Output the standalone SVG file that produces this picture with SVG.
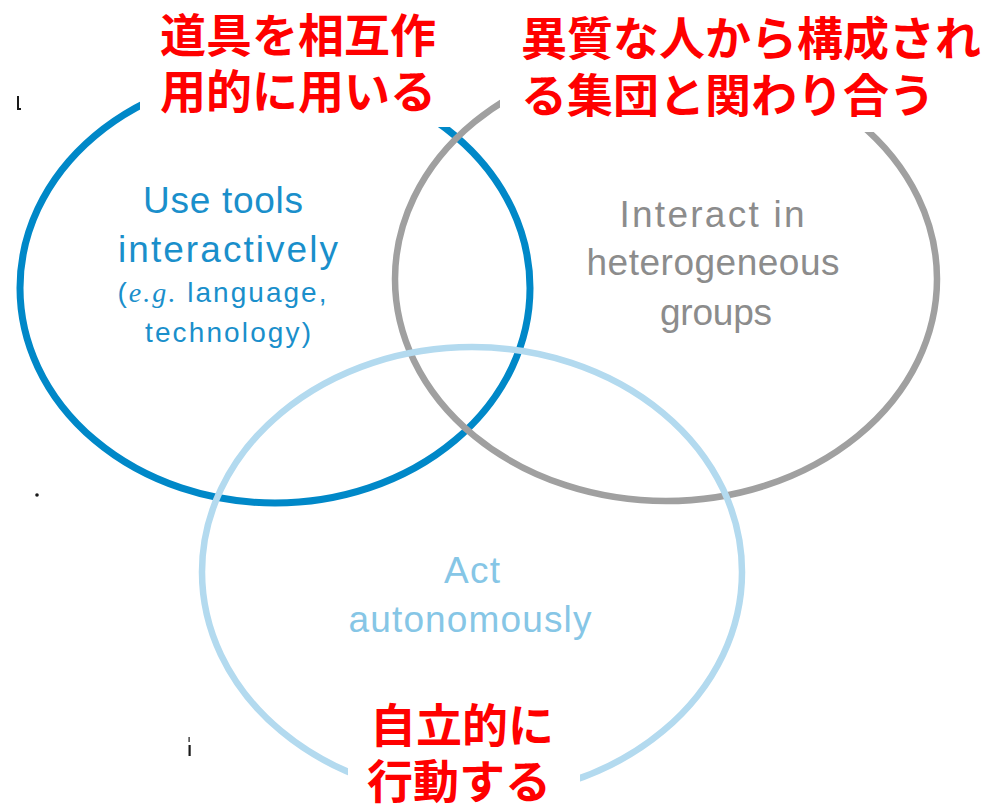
<svg xmlns="http://www.w3.org/2000/svg" width="983" height="805" viewBox="0 0 983 805">
  <style>
    .ring { fill: none; }
    .lbl { font-family: "Liberation Sans", "DejaVu Sans", sans-serif; font-size: 37px; text-anchor: middle; }
    .small { font-size: 28px; }
    .note { font-family: "Noto Sans CJK JP", "Noto Sans CJK SC", sans-serif; font-weight: 700; font-size: 46px; fill: #FF0000; }
    .pad { fill: #FFFFFF; }
    .mark { fill: #1A1A1A; }
  </style>

  <rect width="983" height="805" fill="#FFFFFF"/>

  <!-- stray print marks along the left margin -->
  <g id="margin-marks">
    <rect class="mark" x="17" y="96" width="2" height="14"/>
    <rect class="mark" x="17" y="108" width="4" height="2"/>
    <circle class="mark" cx="37" cy="495" r="1.8"/>
    <rect class="mark" x="188.5" y="737" width="1.2" height="5"/>
    <rect class="mark" x="188.5" y="745" width="2.2" height="11"/>
  </g>

  <!-- competency: tools -->
  <g id="node-tools">
    <ellipse class="ring" cx="275" cy="288" rx="255" ry="215" stroke="#0088C8" stroke-width="7"/>
    <g class="lbl" fill="#1A8FCB">
      <text x="223" y="213" textLength="160" lengthAdjust="spacing">Use tools</text>
      <text x="228" y="262" textLength="220" lengthAdjust="spacing">interactively</text>
      <text class="small" x="222" y="302" textLength="209" lengthAdjust="spacing">(<tspan font-family="Liberation Serif, serif" font-style="italic">e.g.</tspan> language,</text>
      <text class="small" x="228" y="342" textLength="166" lengthAdjust="spacing">technology)</text>
    </g>
  </g>

  <!-- competency: groups -->
  <g id="node-groups">
    <ellipse class="ring" cx="666" cy="279" rx="271" ry="222" stroke="#A0A0A0" stroke-width="6.5"/>
    <g class="lbl" fill="#8C8C8C">
      <text x="712" y="227" textLength="185" lengthAdjust="spacing">Interact in</text>
      <text x="713" y="275" textLength="253" lengthAdjust="spacing">heterogeneous</text>
      <text x="716" y="325" textLength="112" lengthAdjust="spacing">groups</text>
    </g>
  </g>

  <!-- competency: autonomy -->
  <g id="node-autonomy">
    <ellipse class="ring" cx="472" cy="572" rx="270" ry="225" stroke="#B3DAEF" stroke-width="6.5"/>
    <g class="lbl" fill="#86C6E6">
      <text x="472" y="583" textLength="56" lengthAdjust="spacing">Act</text>
      <text x="470" y="632" textLength="243" lengthAdjust="spacing">autonomously</text>
    </g>
  </g>

  <!-- Japanese captions on white pads -->
  <g id="caption-tools">
    <rect class="pad" x="140" y="0" width="319" height="127"/>
    <text class="note" x="160" y="52">道具を相互作</text>
    <text class="note" x="160" y="108">用的に用いる</text>
  </g>

  <g id="caption-groups">
    <rect class="pad" x="500" y="0" width="483" height="132"/>
    <text class="note" x="521" y="55">異質な人から構成され</text>
    <text class="note" x="521" y="112">る集団と関わり合う</text>
  </g>

  <g id="caption-autonomy">
    <rect class="pad" x="348" y="695" width="232" height="110"/>
    <text class="note" x="370" y="742">自立的に</text>
    <text class="note" x="367" y="798">行動する</text>
  </g>
</svg>
